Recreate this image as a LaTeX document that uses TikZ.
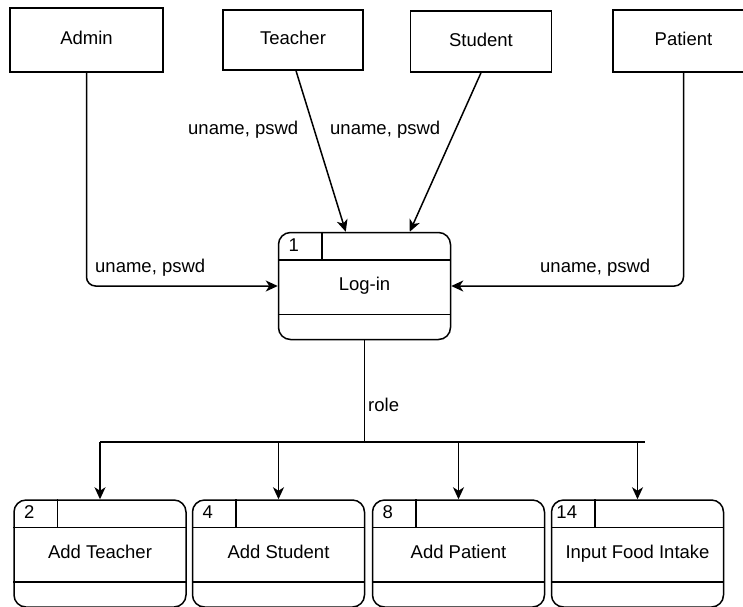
\documentclass[tikz,border=0pt]{standalone}
\usepackage{fontspec}
\setmainfont{Liberation Sans}
\usetikzlibrary{arrows.meta}

\tikzset{
  every node/.style={font=\fontsize{18.5}{22}\selectfont, text height=13pt, text depth=4pt},
  entity/.style={draw, line width=1.5pt, rectangle, inner sep=0pt},
  proc/.style={draw, line width=1.5pt, rectangle, rounded corners=12pt,
    minimum width=172pt, minimum height=107pt, inner sep=0pt},
  flow/.style={line width=1.5pt, -{Stealth[length=12pt,width=11pt,inset=3.5pt]}},
  plain/.style={line width=1.5pt},
  lbl/.style={inner sep=0pt},
}

% header row, divider and footer row of a process box
\newcommand{\dfdparts}[2]{%
  \draw[plain] ([yshift=-28pt]#1.north west) -- ([yshift=-28pt]#1.north east);
  \draw[plain] ([xshift=44pt]#1.north west) -- ([xshift=44pt,yshift=-28pt]#1.north west);
  \draw[plain] ([yshift=26pt]#1.south west) -- ([yshift=26pt]#1.south east);
  \node[lbl] at ([xshift=16pt,yshift=-15pt]#1.north west) {#2};
}

\begin{document}
\begin{tikzpicture}[x=1pt, y=-1pt]
\useasboundingbox (0,0) rectangle (743,606);
\clip (0,0) rectangle (743,606);

% external entities
\node[entity, minimum width=153pt, minimum height=64pt] (admin)   at (86.5,40) {Admin};
\node[entity, minimum width=140pt, minimum height=60pt] (teacher) at (293,40) {Teacher};
\node[entity, minimum width=141pt, minimum height=61pt] (student) at (481,41.5) {Student};
\node[entity, minimum width=141pt, minimum height=62pt] (patient) at (683.5,41) {Patient};

% log-in process
\node[proc] (login) at (364.5,286) {Log-in};
\dfdparts{login}{1}

% second-level processes
\node[proc] (p2)  at (100,553.5)   {Add Teacher};
\node[proc] (p4)  at (278.5,553.5) {Add Student};
\node[proc] (p8)  at (458.5,553.5) {Add Patient};
\node[proc] (p14) at (637.5,553.5) {Input Food Intake};
\dfdparts{p2}{2}
\dfdparts{p4}{4}
\dfdparts{p8}{8}
\dfdparts{p14}{14}

% credentials into log-in
\draw[flow, rounded corners=9pt] (admin.south) |- (login.west);
\draw[flow, rounded corners=9pt] (patient.south) |- (login.east);
\draw[flow] ([xshift=3pt]teacher.south) -- ([xshift=68pt]login.north west);
\draw[flow] (student.south) -- ([xshift=132pt]login.north west);

\node[lbl, anchor=west] at (95,268) {uname, pswd};
\node[lbl, anchor=west] at (540,268) {uname, pswd};
\node[lbl, anchor=west] at (188,130) {uname, pswd};
\node[lbl, anchor=west] at (330,130) {uname, pswd};

% role dispatch
\coordinate (split) at (364.5,442);
\coordinate (busL) at (100,442);
\coordinate (busR) at (645,442);
\draw[plain] (login.south) -- (split);
\draw[plain] (busL) -- (busR);
\node[lbl, anchor=west] at (368,407) {role};
\draw[flow] (busL) -- (p2.north);
\draw[flow] (p4.north |- busL) -- (p4.north);
\draw[flow] (p8.north |- busL) -- (p8.north);
\draw[flow] (p14.north |- busL) -- (p14.north);
\end{tikzpicture}
\end{document}
